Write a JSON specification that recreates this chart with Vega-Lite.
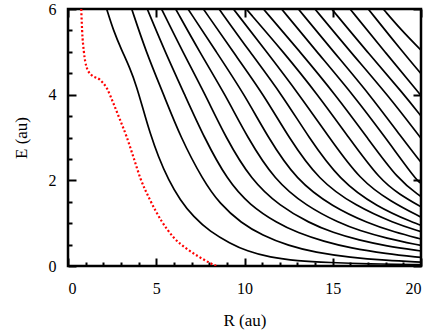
{
  "$schema": "https://vega.github.io/schema/vega-lite/v6.json",
  "width": 353,
  "height": 257,
  "autosize": "none",
  "padding": {"left": 68, "top": 9, "right": 15, "bottom": 66},
  "datasets": {
    "curves": [
      {"c":1,"R":2.19,"E":6},{"c":1,"R":2.57,"E":5.5},{"c":1,"R":3.04,"E":5.04},{"c":1,"R":3.51,"E":4.62},{"c":1,"R":3.89,"E":4.19},{"c":1,"R":4.27,"E":3.64},{"c":1,"R":4.65,"E":3.1},{"c":1,"R":5.12,"E":2.55},{"c":1,"R":5.69,"E":2.01},{"c":1,"R":6.35,"E":1.54},{"c":1,"R":7.1,"E":1.15},{"c":1,"R":8.05,"E":0.8},{"c":1,"R":9.18,"E":0.53},{"c":1,"R":10.12,"E":0.35},{"c":1,"R":11.44,"E":0.2},{"c":1,"R":12.96,"E":0.12},{"c":1,"R":14.84,"E":0.08},{"c":1,"R":17,"E":0.05},{"c":1,"R":20,"E":0.03},
      {"c":2,"R":3.61,"E":6},{"c":2,"R":4.42,"E":5},{"c":2,"R":5.42,"E":4},{"c":2,"R":6.38,"E":3},{"c":2,"R":7.65,"E":2},{"c":2,"R":8.6,"E":1.45},{"c":2,"R":9.82,"E":1},{"c":2,"R":11,"E":0.72},{"c":2,"R":12.5,"E":0.47},{"c":2,"R":14,"E":0.32},{"c":2,"R":16,"E":0.2},{"c":2,"R":18,"E":0.13},{"c":2,"R":20,"E":0.09},
      {"c":3,"R":4.49,"E":6},{"c":3,"R":5.5,"E":5},{"c":3,"R":6.61,"E":4},{"c":3,"R":7.71,"E":3},{"c":3,"R":9.03,"E":2},{"c":3,"R":10.3,"E":1.42},{"c":3,"R":11.86,"E":1},{"c":3,"R":13,"E":0.78},{"c":3,"R":14.5,"E":0.57},{"c":3,"R":16,"E":0.42},{"c":3,"R":18,"E":0.29},{"c":3,"R":20,"E":0.2},
      {"c":4,"R":5.3,"E":6},{"c":4,"R":6.5,"E":5},{"c":4,"R":7.78,"E":4},{"c":4,"R":8.93,"E":3},{"c":4,"R":10.39,"E":2},{"c":4,"R":12,"E":1.4},{"c":4,"R":13.69,"E":1},{"c":4,"R":15,"E":0.78},{"c":4,"R":16.5,"E":0.6},{"c":4,"R":18,"E":0.47},{"c":4,"R":20,"E":0.35},
      {"c":5,"R":6.1,"E":6},{"c":5,"R":7.45,"E":5},{"c":5,"R":8.91,"E":4},{"c":5,"R":10.16,"E":3},{"c":5,"R":11.71,"E":2},{"c":5,"R":13.5,"E":1.4},{"c":5,"R":15.39,"E":1},{"c":5,"R":16.5,"E":0.83},{"c":5,"R":18,"E":0.65},{"c":5,"R":20,"E":0.48},
      {"c":6,"R":6.8,"E":6},{"c":6,"R":8.4,"E":5},{"c":6,"R":10,"E":4},{"c":6,"R":11.33,"E":3},{"c":6,"R":12.94,"E":2},{"c":6,"R":15,"E":1.38},{"c":6,"R":17,"E":1},{"c":6,"R":18.5,"E":0.79},{"c":6,"R":20,"E":0.63},
      {"c":7,"R":7.67,"E":6},{"c":7,"R":9.35,"E":5},{"c":7,"R":11.09,"E":4},{"c":7,"R":12.5,"E":3},{"c":7,"R":14.2,"E":2},{"c":7,"R":16.3,"E":1.4},{"c":7,"R":18.47,"E":1},{"c":7,"R":20,"E":0.8},
      {"c":8,"R":8.56,"E":6},{"c":8,"R":10.3,"E":5},{"c":8,"R":12.12,"E":4},{"c":8,"R":13.64,"E":3},{"c":8,"R":15.39,"E":2},{"c":8,"R":17.5,"E":1.38},{"c":8,"R":19.64,"E":1},{"c":8,"R":20,"E":0.95},
      {"c":9,"R":9.37,"E":6},{"c":9,"R":11.25,"E":5},{"c":9,"R":13.1,"E":4},{"c":9,"R":14.8,"E":3},{"c":9,"R":16.56,"E":2},{"c":9,"R":18.3,"E":1.5},{"c":9,"R":20,"E":1.14},
      {"c":10,"R":10.1,"E":6},{"c":10,"R":12.2,"E":5},{"c":10,"R":14.15,"E":4},{"c":10,"R":15.9,"E":3},{"c":10,"R":17.7,"E":2},{"c":10,"R":18.8,"E":1.67},{"c":10,"R":20,"E":1.38},
      {"c":11,"R":11.07,"E":6},{"c":11,"R":13.15,"E":5},{"c":11,"R":15.15,"E":4},{"c":11,"R":16.95,"E":3},{"c":11,"R":18.73,"E":2},{"c":11,"R":20,"E":1.62},
      {"c":12,"R":12.1,"E":6},{"c":12,"R":14.1,"E":5},{"c":12,"R":16.15,"E":4},{"c":12,"R":17.98,"E":3},{"c":12,"R":19.74,"E":2},{"c":12,"R":20,"E":1.93},
      {"c":13,"R":13.05,"E":6},{"c":13,"R":15.05,"E":5},{"c":13,"R":17.1,"E":4},{"c":13,"R":18.9,"E":3},{"c":13,"R":20,"E":2.42},
      {"c":14,"R":13.99,"E":6},{"c":14,"R":16,"E":5},{"c":14,"R":18.1,"E":4},{"c":14,"R":20,"E":2.98},
      {"c":15,"R":14.94,"E":6},{"c":15,"R":16.95,"E":5},{"c":15,"R":19.05,"E":4},{"c":15,"R":20,"E":3.5},
      {"c":16,"R":15.98,"E":6},{"c":16,"R":17.95,"E":5},{"c":16,"R":20,"E":3.98},
      {"c":17,"R":17.01,"E":6},{"c":17,"R":18.95,"E":5},{"c":17,"R":20,"E":4.49},
      {"c":18,"R":17.86,"E":6},{"c":18,"R":18.9,"E":5.5},{"c":18,"R":20,"E":5.04}
    ],
    "red": [
      {"R":0.75,"E":6},{"R":0.8,"E":5.5},{"R":0.9,"E":5.0},{"R":1.05,"E":4.65},{"R":1.3,"E":4.47},{"R":1.8,"E":4.35},{"R":2.2,"E":4.15},{"R":2.57,"E":3.8},{"R":2.95,"E":3.41},{"R":3.32,"E":3.02},{"R":3.7,"E":2.55},{"R":4.1,"E":2.05},{"R":4.65,"E":1.54},{"R":5.3,"E":1.05},{"R":6.0,"E":0.66},{"R":6.7,"E":0.41},{"R":7.4,"E":0.22},{"R":8.0,"E":0.08},{"R":8.4,"E":0.0}
    ]
  },
  "layer": [
    {
      "data": {"name": "red"},
      "mark": {"type": "line", "color": "#ff0000", "strokeWidth": 2.2, "strokeDash": [2, 2.2], "interpolate": "monotone", "clip": true},
      "encoding": {
        "x": {"field": "R", "type": "quantitative", "scale": {"domain": [0, 20], "nice": false, "zero": false},
              "axis": {"orient": "bottom", "values": [0,1,2,3,4,5,6,7,8,9,10,11,12,13,14,15,16,17,18,19,20], "ticks": true,
                       "tickSize": {"condition": {"test": "datum.value % 5 === 0", "value": -8}, "value": -4},
                       "tickColor": "black", "tickWidth": 2,
                       "labelExpr": "datum.value % 5 === 0 ? datum.label : ''",
                       "labelPadding": 22, "title": "R (au)", "titleY": 59, "titleBaseline": "alphabetic"}},
        "y": {"field": "E", "type": "quantitative", "scale": {"domain": [0, 6], "nice": false, "zero": false},
              "axis": {"orient": "left", "values": [0,0.5,1,1.5,2,2.5,3,3.5,4,4.5,5,5.5,6], "ticks": true,
                       "tickSize": {"condition": {"test": "datum.value % 2 === 0", "value": -8}, "value": -4},
                       "tickColor": "black", "tickWidth": 2,
                       "labelExpr": "datum.value % 2 === 0 ? format(datum.value, 'd') : ''",
                       "labelPadding": 20, "title": "E (au)", "titleX": -42, "titleY": 128.5, "titleAngle": -90, "titleAlign": "center", "titleBaseline": "alphabetic"}}
      }
    },
    {
      "data": {"name": "red"},
      "mark": {"type": "line", "opacity": 0},
      "encoding": {
        "x": {"field": "R", "type": "quantitative",
              "axis": {"orient": "top", "values": [0, 5, 10, 15, 20], "ticks": true, "tickSize": 8, "offset": -8, "tickColor": "black", "tickWidth": 2, "labels": false, "title": null}},
        "y": {"field": "E", "type": "quantitative",
              "axis": {"orient": "right", "values": [0, 2, 4, 6], "ticks": true, "tickSize": -8, "tickColor": "black", "tickWidth": 2, "labels": false, "title": null}}
      }
    },
    {
      "data": {"name": "curves"},
      "mark": {"type": "line", "color": "black", "strokeWidth": 1.7, "interpolate": "basis", "clip": true},
      "encoding": {
        "x": {"field": "R", "type": "quantitative", "axis": null},
        "y": {"field": "E", "type": "quantitative", "axis": null},
        "detail": {"field": "c", "type": "nominal"}
      }
    }
  ],
  "resolve": {"axis": {"x": "independent", "y": "independent"}},
  "config": {
    "background": "white",
    "view": {"stroke": "black", "strokeWidth": 2.5},
    "axis": {
      "domain": false, "grid": false,
      "labelFont": "Liberation Serif", "labelFontSize": 16, "labelColor": "black",
      "titleFont": "Liberation Serif", "titleFontSize": 17, "titleFontWeight": "normal", "titleColor": "black"
    }
  }
}
